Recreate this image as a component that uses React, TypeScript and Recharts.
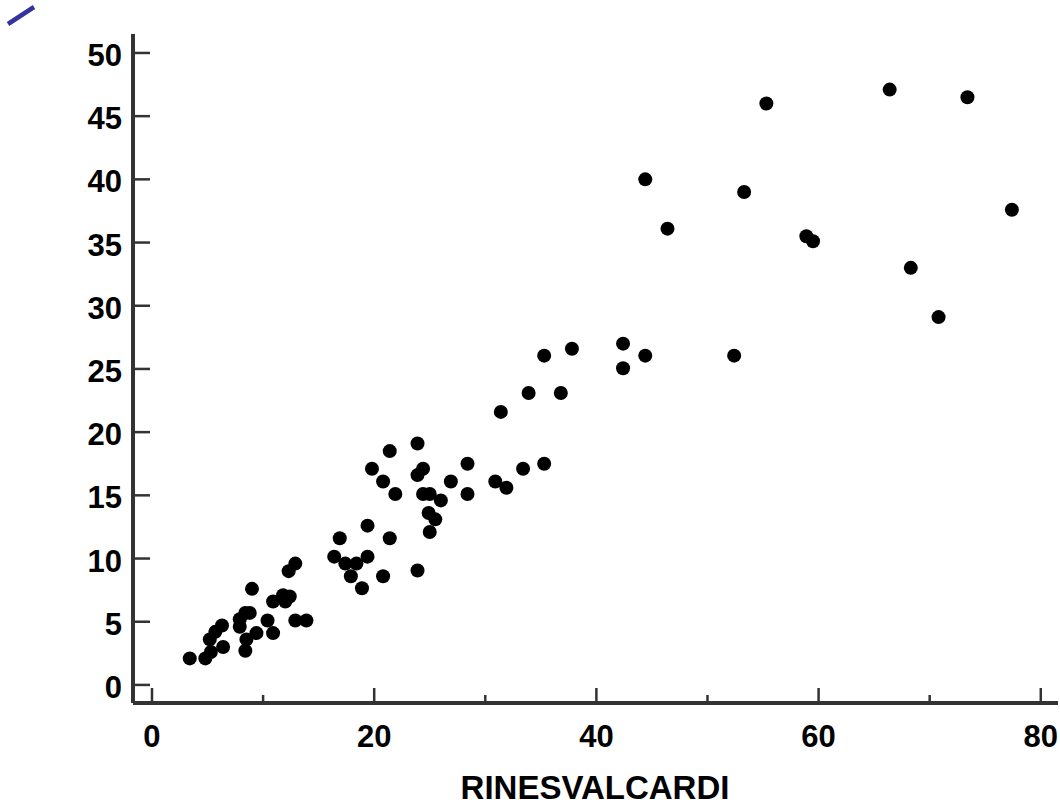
import React from 'react';
import { ScatterChart, Scatter, XAxis, YAxis } from 'recharts';

// values
const rinesvalcardi = [
  3.4, 4.8, 5.3, 5.2, 6.4, 5.7, 6.3, 7.9, 7.9, 8.4, 8.8, 8.5, 8.4, 9.4, 9.0, 10.4, 10.9, 10.9, 11.8, 12.4,
  12.0, 12.9, 13.9, 12.3, 12.9, 16.4, 16.9, 17.4, 18.4, 17.9, 18.9, 19.4, 19.4, 20.8, 21.4, 23.9, 19.8, 21.4,
  23.9, 20.8, 21.9, 24.4, 23.9, 24.4, 25.0, 26.0, 24.9, 25.5, 25.0, 26.9, 28.4, 28.4, 30.9, 31.9, 33.4, 35.3,
  31.4, 33.9, 36.8, 35.3, 37.8, 42.4, 42.4, 44.4, 52.4, 44.4, 46.4, 53.3, 55.3, 58.9, 59.5, 66.4, 73.4, 77.4,
  68.3, 70.8,
];
const yValues = [
  2.1, 2.1, 2.6, 3.6, 3.0, 4.2, 4.7, 4.6, 5.2, 5.7, 5.7, 3.6, 2.7, 4.1, 7.6, 5.1, 4.1, 6.6, 7.1, 7.0,
  6.6, 5.1, 5.1, 9.0, 9.6, 10.15, 11.6, 9.6, 9.6, 8.6, 7.65, 10.15, 12.6, 8.6, 11.6, 9.05, 17.1, 18.5,
  19.1, 16.1, 15.1, 17.1, 16.6, 15.1, 15.1, 14.6, 13.6, 13.1, 12.1, 16.1, 17.5, 15.1, 16.1, 15.6, 17.1, 17.5,
  21.6, 23.1, 23.1, 26.05, 26.6, 27.0, 25.05, 26.05, 26.05, 40.0, 36.1, 39.0, 46.0, 35.5, 35.1, 47.1, 46.5, 37.6,
  33.0, 29.1,
];
const xTicks = [0, 10, 20, 30, 40, 50, 60, 70, 80];
const xLabelTicks = [0, 20, 40, 60, 80];
const yTicks = [0, 5, 10, 15, 20, 25, 30, 35, 40, 45, 50];

const data = rinesvalcardi.map((x, i) => ({ x, y: yValues[i] }));

const axisColor = '#333333';
const fontFamily = "'Liberation Sans', Arial, sans-serif";

const XTick = (props: any) => {
  const { x, y, payload } = props;
  const major = xLabelTicks.includes(payload.value);
  return (
    <g>
      <line x1={x} x2={x} y1={y} y2={y - (major ? 15 : 8)} stroke={axisColor} strokeWidth={2.5} />
      {major && (
        <text x={x} y={y + 44} textAnchor="middle" fontSize={31} fontWeight="bold" fontFamily={fontFamily} fill="#000">
          {payload.value}
        </text>
      )}
    </g>
  );
};

const YTick = (props: any) => {
  const { x, y, payload } = props;
  return (
    <g>
      <line x1={x} x2={x + 17} y1={y} y2={y} stroke={axisColor} strokeWidth={2.5} />
      <text x={x - 11} y={y + 13} textAnchor="end" fontSize={31} fontWeight="bold" fontFamily={fontFamily} fill="#000">
        {payload.value}
      </text>
    </g>
  );
};

const Dot = (props: any) => <circle cx={props.cx} cy={props.cy} r={7} fill="#000" />;

export default function App() {
  return (
    <div style={{ position: 'absolute', left: 0, top: 0, width: 1060, height: 803, background: '#fff' }}>
      <ScatterChart width={1060} height={803} margin={{ top: 34, right: 2, bottom: 0, left: 0 }}>
        <XAxis
          type="number"
          dataKey="x"
          domain={[-1.71, 81.55]}
          ticks={xTicks}
          allowDataOverflow
          height={100}
          tickSize={0}
          tickMargin={0}
          tickLine={false}
          tick={<XTick />}
          axisLine={{ stroke: axisColor, strokeWidth: 4 }}
          interval={0}
        />
        <YAxis
          type="number"
          dataKey="y"
          domain={[-1.43, 51.5]}
          ticks={yTicks}
          allowDataOverflow
          width={133}
          tickSize={0}
          tickMargin={0}
          tickLine={false}
          tick={<YTick />}
          axisLine={{ stroke: axisColor, strokeWidth: 4 }}
          interval={0}
        />
        <Scatter data={data} shape={<Dot />} isAnimationActive={false} />
      </ScatterChart>
      <svg width={1060} height={803} style={{ position: 'absolute', left: 0, top: 0, pointerEvents: 'none' }}>
        <line x1={8} y1={24} x2={34} y2={7} stroke="#3333a0" strokeWidth={4.5} />
        <text x={595} y={799} textAnchor="middle" fontSize={33} fontWeight="bold" fontFamily={fontFamily} fill="#000">
          RINESVALCARDI
        </text>
      </svg>
    </div>
  );
}
